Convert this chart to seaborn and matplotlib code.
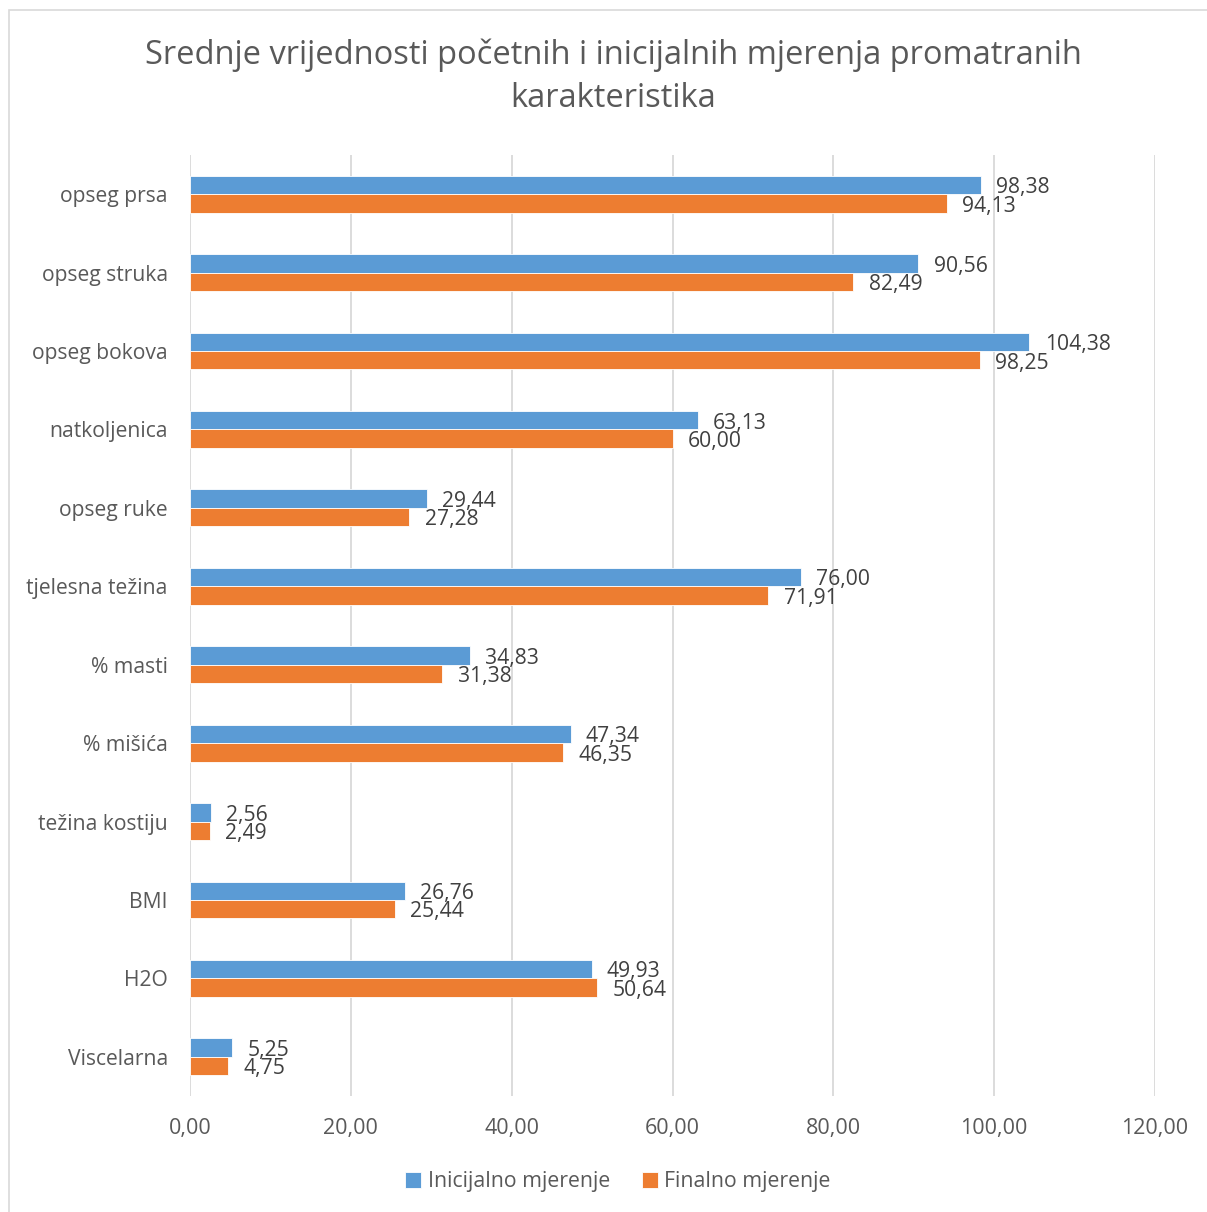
import matplotlib
matplotlib.use("Agg")
import matplotlib.pyplot as plt
import seaborn as sns
import pandas as pd
from matplotlib.patches import Rectangle
from matplotlib.ticker import FuncFormatter

categories = ["opseg prsa", "opseg struka", "opseg bokova", "natkoljenica", "opseg ruke",
              "tjelesna težina", "% masti", "% mišića", "težina kostiju", "BMI", "H2O", "Viscelarna"]
inicijalno = [98.38, 90.56, 104.38, 63.13, 29.44, 76.00, 34.83, 47.34, 2.56, 26.76, 49.93, 5.25]
finalno = [94.13, 82.49, 98.25, 60.00, 27.28, 71.91, 31.38, 46.35, 2.49, 25.44, 50.64, 4.75]
series_names = ["Inicijalno mjerenje", "Finalno mjerenje"]
title = "Srednje vrijednosti početnih i inicijalnih mjerenja promatranih\nkarakteristika"

sns.set_theme(style="white")
plt.rcParams['font.family'] = ['Open Sans', 'DejaVu Sans']
txt = "#595959"

df = pd.DataFrame({
    "kategorija": categories * 2,
    "vrijednost": inicijalno + finalno,
    "serija": [series_names[0]] * len(categories) + [series_names[1]] * len(categories),
})

fig = plt.figure(figsize=(12.07, 12.12), dpi=100)
ax = fig.add_axes([190/1207, 1-1096/1212, (1155-190)/1207, (1096-155)/1212])

sns.barplot(data=df, y="kategorija", x="vrijednost", hue="serija", hue_order=series_names,
            order=categories, orient="h", palette=["#5B9BD5", "#ED7D31"], width=0.47,
            ax=ax, errorbar=None, saturation=1, edgecolor="white", linewidth=0.6)

for cont in ax.containers:
    labs = [f"{v:.2f}".replace(".", ",") for v in cont.datavalues]
    texts = ax.bar_label(cont, labels=labs, padding=11, fontsize=15.2, color="#404040")
    for t in texts:
        t.xyann = (11, -2)

ax.set_xlim(0, 120)
ax.set_xticks(range(0, 121, 20))
ax.xaxis.set_major_formatter(FuncFormatter(lambda v, p: f"{v:.2f}".replace(".", ",")))
ax.grid(axis="x", color="#D9D9D9", linewidth=1.3)
ax.set_axisbelow(True)
for s in ax.spines.values():
    s.set_visible(False)
ax.set_xlabel("")
ax.set_ylabel("")
ax.tick_params(axis="x", length=0, pad=16, labelsize=15.5, labelcolor=txt)
ax.tick_params(axis="y", length=0, pad=16, labelsize=15.2, labelcolor=txt)

ax.legend(loc="center", bbox_to_anchor=(618/1207, 1-1182/1212), bbox_transform=fig.transFigure,
          ncol=2, frameon=False, fontsize=15.3, labelcolor=txt, handlelength=0.75, handleheight=0.75,
          handletextpad=0.3, columnspacing=1.5)

fig.text(613/1207, 1-77/1212, title, ha="center", va="center", fontsize=23.5, color=txt, linespacing=1.4)

fig.patches.append(Rectangle((9/1207, -0.01), 1.02, 1-10/1212+0.01, transform=fig.transFigure,
                             fill=False, edgecolor="#D9D9D9", linewidth=1.2))

fig.savefig("out.png", dpi=100)
